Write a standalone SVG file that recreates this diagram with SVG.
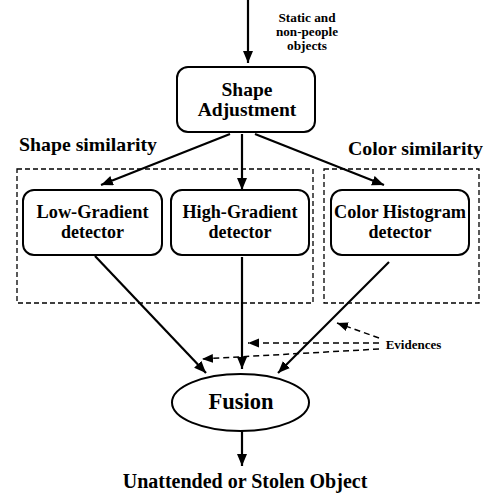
<svg xmlns="http://www.w3.org/2000/svg" width="490" height="493" viewBox="0 0 490 493">
<defs>
<style>
text{font-family:'Liberation Serif',serif;font-weight:700;fill:#000;text-anchor:middle}
.box{fill:#fff;stroke:#000;stroke-width:2}
.grp{fill:none;stroke:#000;stroke-width:1.3;stroke-dasharray:5,3}
.c{stroke:#000;stroke-width:2.2;fill:none}
.d{stroke:#000;stroke-width:1.5;fill:none;stroke-dasharray:6,4}
</style>
<marker id="ah" markerUnits="userSpaceOnUse" markerWidth="14" markerHeight="12" refX="12" refY="5" orient="auto">
<path d="M0,0 L12,5 L0,10 Z" fill="#000"/>
</marker>
<marker id="ahs" markerUnits="userSpaceOnUse" markerWidth="14" markerHeight="12" refX="11" refY="4.5" orient="auto">
<path d="M0,0 L11,4.5 L0,9 Z" fill="#000"/>
</marker>
</defs>
<rect width="490" height="493" fill="#fff"/>
<g id="groups">
<rect class="grp" x="17" y="169" width="296" height="134"/>
<rect class="grp" x="324" y="169" width="155" height="134"/>
<text x="88" y="151" font-size="19" textLength="138" lengthAdjust="spacingAndGlyphs">Shape similarity</text>
<text x="415.5" y="155" font-size="19" textLength="135" lengthAdjust="spacingAndGlyphs">Color similarity</text>
</g>
<g id="connectors">
<line class="c" x1="248" y1="0" x2="248" y2="63" marker-end="url(#ah)"/>
<line class="c" x1="230" y1="134" x2="101" y2="185" marker-end="url(#ah)"/>
<line class="c" x1="242" y1="134" x2="242" y2="190" marker-end="url(#ah)"/>
<line class="c" x1="255" y1="134" x2="384" y2="185" marker-end="url(#ah)"/>
<line class="c" x1="95" y1="256" x2="206" y2="373" marker-end="url(#ah)"/>
<line class="c" x1="242" y1="257" x2="242" y2="369" marker-end="url(#ah)"/>
<line class="c" x1="389" y1="262" x2="278" y2="373" marker-end="url(#ah)"/>
<line class="c" x1="242" y1="431" x2="242" y2="466" marker-end="url(#ah)"/>
<line class="d" x1="379" y1="338" x2="337" y2="323" marker-end="url(#ahs)"/>
<line class="d" x1="379" y1="343" x2="248" y2="343" marker-end="url(#ahs)"/>
<line class="d" x1="379" y1="349" x2="202" y2="359" marker-end="url(#ahs)"/>
</g>
<g id="input-label">
<text x="307" y="22" font-size="12" textLength="57" lengthAdjust="spacingAndGlyphs">Static and</text>
<text x="307" y="36" font-size="12" textLength="62" lengthAdjust="spacingAndGlyphs">non-people</text>
<text x="307" y="50" font-size="12" textLength="40" lengthAdjust="spacingAndGlyphs">objects</text>
</g>
<g id="shape-adjustment">
<rect class="box" x="177" y="67" width="138" height="65" rx="11"/>
<text x="247" y="96" font-size="19.5">Shape</text>
<text x="247" y="116" font-size="19.5">Adjustment</text>
</g>
<g id="low-gradient">
<rect class="box" x="23" y="190" width="139" height="65" rx="11"/>
<text x="92.5" y="218" font-size="18" textLength="112" lengthAdjust="spacingAndGlyphs">Low-Gradient</text>
<text x="92.5" y="238" font-size="18">detector</text>
</g>
<g id="high-gradient">
<rect class="box" x="171" y="190" width="138" height="65" rx="11"/>
<text x="240" y="218" font-size="18" textLength="115" lengthAdjust="spacingAndGlyphs">High-Gradient</text>
<text x="240" y="238" font-size="18">detector</text>
</g>
<g id="color-histogram">
<rect class="box" x="331" y="190" width="138" height="65" rx="11"/>
<text x="400" y="218" font-size="18" textLength="132" lengthAdjust="spacingAndGlyphs">Color Histogram</text>
<text x="400" y="238" font-size="18">detector</text>
</g>
<g id="evidences">
<text x="413.5" y="349" font-size="13">Evidences</text>
</g>
<g id="fusion">
<ellipse class="box" cx="240.5" cy="402.5" rx="68.5" ry="28.5"/>
<text x="241" y="409" font-size="22.5">Fusion</text>
</g>
<g id="output">
<text x="245" y="488" font-size="20">Unattended or Stolen Object</text>
</g>
</svg>
